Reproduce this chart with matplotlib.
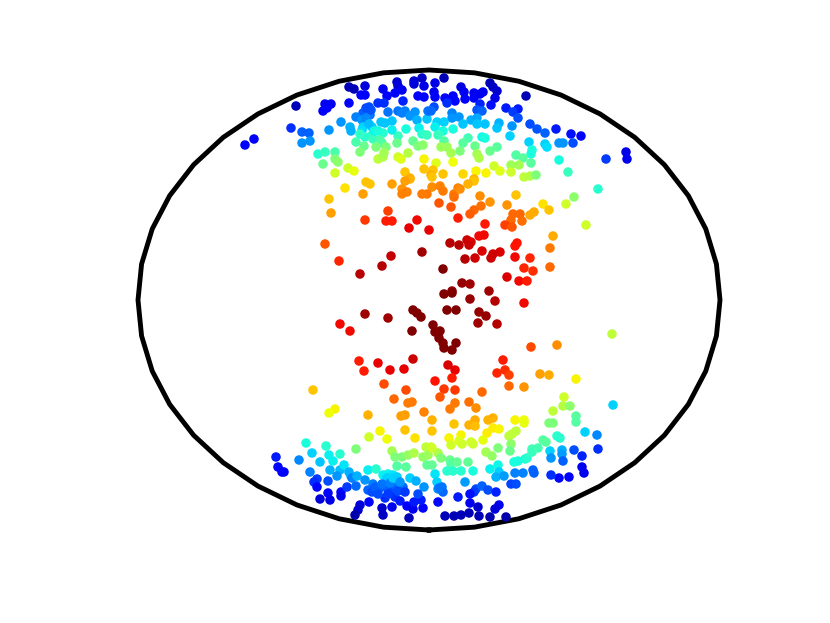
import numpy as np
import matplotlib
matplotlib.use("Agg")
import matplotlib.pyplot as plt

# values, on the axes' own scale
x_top_left = [245,254,296,291,302,309,302,310,329,325, 331,323,327,349,349,354,365,361,365,383,
              397,398,402,395,387,414,414,422,424,418, 424,403,369,378,384,363,356,362,370,341,
              388,398,402,405,410,415,417,427,428,381, 385,392,350,351,363,362,372,406,419,422,
              427,383,372,365,356,373,380,382,398,397, 413,418,423,364,376,386,360,318,325,335,
              335,338,323,335,348,354,378,383,384,398, 401,408,424,405,424,410,
              366,369,374,360,378,371,366,392]
y_top_left = [145,139,106,128,132,133,143,141,130,104, 104,111,108,103,87,89,86,95,95,89,
              82,86,90,93,96,81,84,78,86,96, 97,101,107,103,103,113,117,120,115,122,
              112,111,113,111,116,112,120,119,111,122, 123,121,127,131,127,130,127,129,128,134,
              135,133,135,137,142,139,140,143,136,143, 141,146,145,146,147,147,152,154,152,152,
              159,162,164,173,168,171,159,157,153,157, 159,153,159,172,169,178,
              118,124,131,134,131,110,108,130]
v_top_left = [.12,.12,.05,.17,.22,.22,.27,.27,.27,.10, .10,.12,.12,.12,.05,.05,.08,.11,.11,.10,
              .07,.08,.10,.11,.11,.07,.08,.06,.09,.12, .13,.16,.20,.17,.17,.22,.25,.27,.24,.27,
              .24,.24,.25,.25,.27,.27,.30,.32,.24,.32, .32,.32,.30,.30,.33,.34,.33,.38,.36,.40,
              .42,.40,.40,.40,.44,.42,.44,.45,.42,.48, .47,.50,.52,.48,.50,.50,.50,.40,.42,.44,
              .50,.52,.48,.60,.60,.63,.58,.56,.55,.60, .62,.57,.65,.70,.70,.72,
              .26,.31,.37,.41,.38,.21,.20,.36]

x_top_right = [444,435,434,435,461,464,453,445,455,447, 465,474,474,480,483,490,493,497,495,526,
               491,480,477,482,506,518,513,518,434,431, 452,452,459,471,477,477,485,463,437,444,
               435,499,497,512,530,537,545,556,571,581, 510,529,545,547,559,563,573,626,606,627,
               559,568,443,453,438,444,441,447,451,460, 468,463,482,485,475,477,479,490,497,532,
               531,516,523,531,511,519,494,500,476,486, 463,436,453,433,443,511,524,530,536,474,
               431,598,574,566,586]
y_top_right = [78,83,92,97,87,92,96,98,101,103, 99,93,98,94,92,83,87,91,98,96,
               105,104,110,111,108,109,112,118,107,111, 113,118,117,120,118,124,124,124,122,122,
               127,123,128,126,124,129,133,129,134,136, 136,142,144,147,143,143,143,152,159,159,
               160,172,131,129,135,141,147,147,153,151, 138,143,137,138,146,154,158,151,147,150,
               154,155,158,163,165,165,166,171,171,173, 174,163,162,170,174,172,177,176,175,179,
               175,189,197,204,225]
v_top_right = [.05,.09,.10,.12,.08,.10,.12,.13,.13,.17, .12,.10,.11,.10,.10,.05,.06,.07,.09,.05,
               .14,.16,.21,.22,.15,.15,.18,.20,.20,.23, .25,.27,.27,.30,.29,.32,.32,.32,.33,.33,
               .36,.30,.32,.27,.20,.21,.22,.15,.14,.11, .33,.33,.33,.34,.27,.27,.20,.09,.18,.10,
               .38,.42,.38,.38,.42,.45,.54,.54,.55,.50, .43,.46,.37,.38,.48,.55,.56,.48,.46,.38,
               .38,.45,.46,.46,.54,.55,.60,.62,.65,.65, .68,.62,.64,.70,.70,.60,.58,.57,.50,.72,
               .72,.40,.52,.60,.60]

x_upper_mid = [345,329,331,366,370,363,392,410,405,402, 407,402,432,432,440,443,427,422,454,454,
               458,439,451,388,365,386,392,417,409,429, 458,325,339,391,382,360,422,443,450,459,
               543,549,516,507,490,480,474,468,460,481, 474,470,485,513,520,534,530,522,511,505,
               512,553,550,550,517,515,500,493,491,482, 475,465,467,471,469,479,484,515,530,524,
               533,507,519,527,462,470,489,452]
y_upper_mid = [188,199,213,182,184,194,184,179,181,189, 192,194,177,187,186,191,194,194,194,197,
               188,203,207,211,220,221,221,220,228,230, 218,244,261,256,266,274,252,269,243,245,
               204,210,195,205,202,196,181,184,189,206, 210,214,224,214,214,212,215,221,220,225,
               227,236,248,267,243,246,252,254,258,251, 258,259,240,242,245,236,235,257,258,268,
               271,277,281,281,283,284,291,291]
v_upper_mid = [.67,.70,.74,.70,.70,.74,.74,.72,.74,.75, .77,.77,.70,.76,.77,.78,.78,.78,.78,.79,
               .77,.82,.82,.84,.85,.88,.88,.90,.91,.91, .88,.82,.87,.94,.95,.95,.97,1.0,.95,.95,
               .67,.70,.70,.75,.75,.76,.70,.72,.76,.79, .80,.81,.88,.80,.80,.73,.73,.79,.80,.84,
               .82,.73,.78,.80,.89,.89,.92,.93,.93,.92, .93,.95,.93,.92,.93,.90,.90,.90,.87,.87,
               .86,.92,.90,.88,.98,.97,.97,.98]

x_lower_mid = [444,452,470,495,524,413,447,456,479,486, 417,421,365,388,478,497,340,350,412,433,
               435,440,439,443,444,452,456,612,531,557, 359,364,378,390,404,413,448,455,452,435,
               503,497,505,509,509,524,540,549,576,384, 406,444,455,482,440,394,408,412,455,450,
               469,476,424,401,405,368,313,335,329,432, 475,488,493,515,524,553,564,563,570,576,
               613]
y_lower_mid = [294,293,299,301,303,310,310,310,312,316, 313,317,314,318,323,324,324,331,331,325,
               332,331,338,343,348,350,343,334,347,345, 361,371,363,370,369,359,365,370,378,381,
               360,373,370,375,386,387,374,375,379,384, 390,389,390,392,397,399,403,402,403,409,
               402,408,412,416,415,415,390,409,413,420, 420,420,418,420,420,411,397,406,406,416,
               405]
v_lower_mid = [1.0,1.0,.98,.95,.90,1.0,1.0,1.0,.98,.98, 1.0,1.0,.97,.97,.97,.95,.90,.90,1.0,1.0,
               1.0,1.0,1.0,1.0,1.0,1.0,1.0,.58,.83,.76, .88,.88,.91,.91,.91,.93,.92,.91,.88,.89,
               .88,.87,.86,.84,.80,.75,.74,.73,.65,.83, .83,.85,.85,.80,.82,.80,.78,.78,.78,.78,
               .79,.76,.77,.74,.74,.72,.70,.65,.64,.72, .73,.72,.72,.65,.64,.58,.60,.57,.52,.46,
               .33]

x_bottom_left = [432,405,415,380,387,369,306,326,356,312, 299,276,278,282,284,329,340,333,320,310,
                 330,340,344,349,351,337,328,317,314,317, 328,320,330,341,341,347,352,357,356,365,
                 368,376,392,395,402,408,414,397,406,426, 431,423,428,438,427,432,435,437,383,388,
                 393,397,387,410,416,373,368,372,380,387, 385,393,397,403,395,400,424,369,360,358,
                 355,382,392,383,407,413,409,423,414,421, 438,
                 375,382,390,398,405,378,388,393,400,418]
y_bottom_left = [431,430,438,431,439,437,443,446,449,453, 460,457,467,472,472,455,454,461,462,472,
                 470,470,465,472,476,476,481,479,482,487, 493,499,500,492,496,487,478,476,486,480,
                 470,469,451,457,457,455,453,466,467,447, 447,457,455,453,465,465,474,482,475,474,
                 475,477,478,478,481,484,490,492,488,488, 498,490,487,487,497,501,487,502,505,510,
                 515,508,507,515,506,509,518,508,502,500, 489,
                 487,484,483,491,492,494,494,478,482,494]
v_bottom_left = [.70,.70,.67,.65,.64,.60,.38,.40,.50,.33, .26,.15,.13,.12,.12,.36,.40,.36,.32,.25,
                 .30,.31,.35,.30,.30,.27,.20,.18,.17,.13, .11,.08,.09,.13,.10,.18,.25,.30,.23,.27,
                 .36,.40,.55,.50,.50,.53,.56,.45,.46,.58, .60,.53,.54,.56,.47,.47,.35,.33,.36,.36,
                 .35,.33,.33,.33,.30,.25,.22,.20,.22,.22, .17,.20,.23,.23,.17,.15,.27,.12,.08,.07,
                 .04,.07,.10,.06,.11,.10,.05,.13,.15,.15, .27,
                 .22,.24,.25,.20,.18,.20,.18,.33,.27,.20]

x_bottom_right = [454,469,475,493,499,487,524,576,549,553, 516,512,509,511,498,510,486,492,449,461,
                  451,459,462,471,473,483,432,441,450,451, 457,468,447,453,461,473,490,498,499,496,
                  504,514,518,525,527,532,532,538,543,546, 557,560,550,551,562,562,563,574,582,598,
                  585,597,582,584,569,559,551,533,534,523, 515,511,516,465,442,443,439,476,482,488,
                  496,474,470,458,438,470,478,499,495,445, 454,461,469,479,490,506]
y_bottom_right = [424,425,426,428,429,433,423,422,423,423, 431,434,436,444,448,451,452,456,438,435,
                  445,441,444,442,444,440,448,458,460,464, 462,462,471,471,471,471,469,465,472,477,
                  476,462,461,459,458,449,452,448,440,442, 436,438,451,458,450,454,461,450,456,449,
                  432,435,467,473,477,478,475,470,473,473, 473,484,484,482,487,492,488,489,486,490,
                  492,492,494,497,502,503,507,505,509,516, 516,515,513,516,517,517]
v_bottom_right = [.70,.72,.71,.66,.65,.66,.63,.45,.50,.50, .58,.58,.58,.52,.50,.48,.55,.53,.65,.65,
                  .60,.62,.60,.60,.60,.63,.60,.50,.48,.45, .47,.47,.40,.40,.40,.38,.36,.37,.33,.30,
                  .28,.38,.38,.38,.40,.43,.42,.43,.45,.46, .40,.40,.33,.27,.30,.28,.22,.20,.16,.17,
                  .33,.26,.10,.10,.11,.13,.17,.22,.22,.25, .25,.19,.20,.28,.24,.23,.24,.20,.22,.20,
                  .16,.18,.14,.15,.13,.10,.07,.10,.08,.05, .05,.05,.05,.05,.04,.04]

x_values = x_top_left + x_top_right + x_upper_mid + x_lower_mid + x_bottom_left + x_bottom_right
y_values = y_top_left + y_top_right + y_upper_mid + y_lower_mid + y_bottom_left + y_bottom_right
c_values = v_top_left + v_top_right + v_upper_mid + v_lower_mid + v_bottom_left + v_bottom_right

fig = plt.figure(figsize=(8.3, 6.23), dpi=100)
ax = fig.add_axes([0, 0, 1, 1])
ax.set_xlim(0, 830)
ax.set_ylim(623, 0)
ax.axis("off")

t = np.linspace(0, 2 * np.pi, 41) + np.pi / 2
ax.plot(429 + 291 * np.cos(t), 300 + 230 * np.sin(t), color="black", lw=3.5, solid_joinstyle="round", zorder=1)
ax.scatter(x_values, y_values, c=c_values, cmap="jet", vmin=0, vmax=1, s=47, linewidths=0, zorder=2)

fig.savefig("out.png", dpi=100)
